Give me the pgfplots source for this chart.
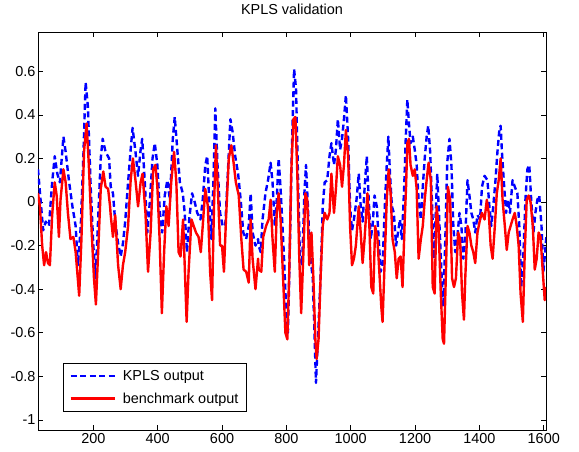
\documentclass[border=0pt]{standalone}
\usepackage{fontspec}
\setmainfont{Liberation Sans}
\usepackage{pgfplots}
\pgfplotsset{compat=1.18}
\begin{document}
\begin{tikzpicture}
\path[use as bounding box] (-38bp,-22bp) rectangle (541bp,430bp);
\begin{axis}[
  at={(0,0)}, anchor=south west,
  scale only axis, width=508bp, height=398bp,
  xmin=28, xmax=1607, ymin=-1.046, ymax=0.78,
  xtick={200,400,600,800,1000,1200,1400,1600},
  ytick={-1,-0.8,-0.6,-0.4,-0.2,0,0.2,0.4,0.6},
  /pgf/number format/assume math mode=true,
  /pgf/number format/1000 sep={},
  tick label style={font=\fontsize{14.5}{16}\selectfont},
  yticklabel style={xshift=1bp},
  major tick length=5bp,
  tick style={black, line width=0.6bp},
  axis line style={line width=0.8bp},
  title={KPLS validation},
  title style={font=\fontsize{14.5}{16}\selectfont, at={(0.5,1)}, anchor=base, yshift=12bp},
  legend cell align=left,
  legend style={at={(0.0492,0.0452)}, anchor=south west, draw=black, line width=0.8bp,
    font=\fontsize{14.5}{16}\selectfont, inner xsep=6bp, inner ysep=5bp, row sep=7bp,
    column sep=5bp},
  legend image code/.code={\draw[#1] (0bp,0bp) -- (44bp,0bp);},
]
\addplot[blue, line width=2.4bp, dash pattern=on 6bp off 3.5bp, line join=round] coordinates {
(28,0.15) (36,0.01) (44,-0.13) (52,-0.09) (62,-0.11) (72,0.09) (80,0.21) (88,0.13) (96,0.09)
(107,0.30) (114,0.23) (124,0.10) (135,-0.02) (145,-0.11) (152,-0.29) (161,-0.11) (169,0.21)
(176,0.55) (183,0.44) (192,0.06) (200,-0.20) (207,-0.35) (214,-0.11) (223,0.20) (229,0.29)
(238,0.23) (249,0.20)
(254,0.07) (261,0.04) (268,-0.09) (277,-0.19) (285,-0.25) (292,-0.19) (299,-0.09) (308,0.09)
(316,0.24) (322,0.34) (331,0.23) (339,0.12) (347,0.24) (352,0.29) (360,0.09) (368,-0.14)
(376,0.01) (384,0.20) (391,0.27) (399,0.17) (407,-0.05) (414,-0.14) (422,0.03) (430,0.10)
(438,0.01) (447,0.29) (453,0.39) (461,0.24) (469,0.09) (478,0.04)
(484,-0.05) (491,-0.23) (498,-0.08) (507,0.04) (515,0.00) (523,-0.05) (533,-0.08) (540,0.01)
(548,0.17) (554,0.21) (561,-0.02) (567,-0.17) (574,0.13) (579,0.43) (586,0.17) (594,-0.05)
(602,-0.11) (610,-0.11) (618,0.13) (626,0.38) (633,0.32) (641,0.21) (650,0.13) (658,0.01)
(666,-0.14) (675,-0.17) (683,-0.11) (689,0.04) (695,-0.14) (704,-0.20) (712,-0.17)
(714,-0.20) (720,-0.23) (726,-0.08) (735,0.04) (743,0.10) (751,0.18) (757,0.09) (764,-0.11)
(770,0.01) (776,0.20) (782,0.06) (791,-0.20) (799,-0.48) (805,-0.60) (811,-0.20) (817,0.24)
(824,0.61) (830,0.52) (836,0.13) (842,-0.25) (849,-0.29) (856,0.04) (861,0.17) (867,-0.02)
(873,-0.23) (882,-0.35) (888,-0.63) (892,-0.83) (898,-0.63) (907,-0.32) (913,-0.02) (919,0.09)
(927,0.10) (934,0.21) (940,0.27)
(948,0.17) (954,0.24) (960,0.38) (967,0.24) (973,0.29) (979,0.38) (985,0.49) (992,0.29)
(998,-0.02) (1004,-0.13) (1010,-0.08) (1018,0.01) (1025,0.13) (1031,-0.02) (1037,-0.09)
(1043,0.06) (1050,0.21) (1056,0.01) (1062,-0.17) (1068,-0.11) (1074,0.03) (1081,-0.02)
(1087,-0.17) (1093,-0.32) (1099,-0.29) (1106,-0.02) (1112,0.17) (1117,0.30) (1122,0.13)
(1128,-0.02) (1134,-0.05) (1141,-0.20) (1147,-0.14) (1153,-0.08) (1159,-0.17) (1166,0.06)
(1171,0.29) (1176,0.47) (1181,0.36) (1186,0.27) (1193,0.30) (1199,0.24) (1205,0.17) (1211,0.01)
(1218,-0.08) (1224,0.07) (1230,0.20) (1236,0.30) (1241,0.35) (1247,0.23) (1253,-0.02)
(1259,-0.26) (1265,-0.02) (1269,0.13) (1276,-0.11) (1282,-0.32) (1288,-0.48) (1294,-0.17)
(1300,0.18) (1307,0.29) (1313,0.17) (1319,-0.11) (1325,-0.23) (1331,-0.17) (1338,-0.05)
(1344,-0.11) (1350,-0.26) (1356,-0.17) (1363,0.10) (1369,0.03) (1375,-0.05) (1381,-0.08)
(1387,-0.14) (1394,-0.06) (1402,-0.08)
(1408,0.07) (1416,0.12) (1425,0.10) (1431,-0.02) (1437,-0.11) (1443,-0.02) (1450,0.10)
(1456,0.23) (1462,0.33) (1466,0.35) (1470,0.23) (1477,0.07) (1483,-0.05) (1489,0.01)
(1495,-0.05) (1503,0.10) (1510,0.07) (1518,0.04) (1524,-0.11) (1530,-0.39) (1537,-0.23)
(1543,0.01) (1549,0.15) (1555,0.17) (1561,0.01) (1568,-0.14) (1574,-0.05) (1580,0.01)
(1586,0.03) (1593,-0.11) (1599,-0.32) (1603,-0.25) (1608,-0.16)
};
\addlegendentry{KPLS output}
\addplot[red, line width=2.4bp, line join=round] coordinates {
(28,0.04) (34,-0.02) (41,-0.20) (47,-0.29) (53,-0.23) (59,-0.28) (65,-0.29) (72,-0.06)
(80,0.09) (86,0.03) (93,-0.16) (98,0.01) (107,0.15) (114,0.09) (121,-0.05) (129,-0.17)
(138,-0.16) (145,-0.23) (150,-0.32) (156,-0.43) (163,-0.17) (171,0.23) (179,0.36) (186,0.17)
(194,-0.11) (202,-0.35) (208,-0.47) (215,-0.23) (223,0.06) (231,0.14) (238,0.07) (246,0.06)
(252,-0.02)
(254,-0.06) (261,-0.16) (268,-0.06) (277,-0.29) (285,-0.40) (292,-0.29) (299,-0.23) (308,-0.11)
(316,0.10) (323,0.20) (331,0.10) (339,-0.02) (347,0.09) (353,0.13) (362,-0.05) (370,-0.32)
(378,-0.14) (386,0.15) (393,0.17) (399,0.07) (406,-0.17) (413,-0.51) (420,-0.23) (427,-0.02)
(434,-0.11) (442,0.09) (451,0.23) (458,0.09) (465,-0.23) (471,-0.25) (479,-0.08)
(484,-0.29) (490,-0.55) (496,-0.32) (505,-0.08) (512,-0.11) (519,-0.14) (527,-0.16) (534,-0.23)
(540,-0.11) (548,0.06) (556,-0.02) (563,-0.32) (569,-0.45) (575,-0.02) (581,0.26) (587,0.06)
(594,-0.20) (600,-0.20) (606,-0.32) (612,-0.09) (621,0.20) (629,0.26) (636,0.18) (643,0.09)
(652,0.03) (660,-0.17) (667,-0.31) (675,-0.32) (683,-0.37) (689,-0.08) (695,-0.26) (704,-0.40)
(712,-0.26)
(714,-0.31) (722,-0.32) (728,-0.16) (737,-0.11) (745,-0.08) (751,0.01) (757,-0.17) (764,-0.32)
(770,-0.05) (776,0.04) (782,-0.08) (791,-0.39) (797,-0.60) (803,-0.63) (809,-0.32) (815,0.13)
(822,0.38) (828,0.39) (834,0.13) (840,-0.25) (846,-0.51) (853,-0.23) (859,0.04) (865,0.01)
(871,-0.29) (878,-0.14) (884,-0.35) (890,-0.63) (894,-0.72) (900,-0.63) (907,-0.32) (913,-0.11)
(919,-0.05) (927,-0.08) (934,-0.05) (940,0.13)
(948,-0.05) (954,0.06) (960,0.21) (967,0.17) (973,0.07) (979,0.17) (985,0.33) (992,0.21)
(998,-0.11) (1004,-0.29) (1010,-0.26) (1016,-0.20) (1025,-0.02) (1031,-0.14) (1037,-0.28)
(1043,-0.17) (1052,0.04) (1058,-0.11) (1064,-0.39) (1070,-0.42) (1076,-0.11) (1083,-0.17)
(1089,-0.32) (1095,-0.48) (1099,-0.55) (1106,-0.25) (1112,0.01) (1118,0.15) (1124,0.04)
(1130,-0.17) (1137,-0.23) (1143,-0.35) (1149,-0.26) (1155,-0.25) (1161,-0.39) (1168,-0.08)
(1172,0.07)
(1176,0.27) (1181,0.29) (1186,0.17) (1193,0.12) (1199,0.15) (1205,0.06) (1211,-0.26)
(1218,-0.17) (1224,-0.11) (1230,0.01) (1236,0.10) (1242,0.18) (1249,0.10) (1255,-0.39)
(1261,-0.42) (1267,-0.02) (1273,-0.11) (1280,-0.42) (1286,-0.63) (1290,-0.65) (1296,-0.32)
(1302,0.07) (1309,0.01) (1315,-0.35) (1321,-0.39) (1327,-0.35) (1334,-0.14) (1340,-0.17)
(1346,-0.42) (1352,-0.54) (1356,-0.35) (1363,-0.11) (1369,-0.14) (1375,-0.20) (1381,-0.23)
(1387,-0.28) (1394,-0.14) (1402,-0.08)
(1408,-0.05) (1416,-0.08) (1423,0.01) (1429,-0.05) (1435,-0.20) (1441,-0.26) (1448,-0.11)
(1454,0.04) (1460,0.10) (1466,0.20) (1472,0.01) (1479,-0.11) (1485,-0.22) (1491,-0.14)
(1497,-0.11) (1503,-0.08) (1510,-0.05) (1516,-0.11) (1522,-0.20) (1528,-0.42) (1535,-0.55)
(1541,-0.23) (1547,0.01) (1553,0.03) (1559,0.00) (1566,-0.11) (1572,-0.31) (1578,-0.26)
(1584,-0.14) (1590,-0.16) (1597,-0.32) (1603,-0.45) (1608,-0.39)
};
\addlegendentry{benchmark output}
\end{axis}
\end{tikzpicture}
\end{document}
